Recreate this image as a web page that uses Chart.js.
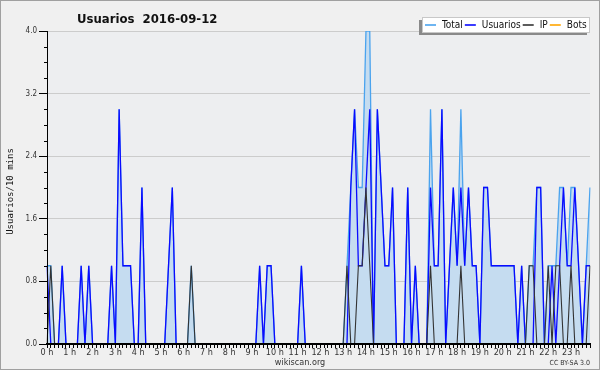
<!DOCTYPE html>
<html><head><meta charset="utf-8">
<script src="https://cdn.jsdelivr.net/npm/chart.js@4.4.0/dist/chart.umd.min.js"></script>
<style>html,body{margin:0;padding:0;background:#f0f0f0;}#wrap{width:600px;height:370px;position:relative}</style>
</head><body><div id="wrap"><canvas id="c" width="600" height="370"></canvas></div>
<script>
const chartTitle = 'Usuarios  2016-09-12';
const yAxisTitle = 'Usuarios/10 mins';
const hourLabels = ['0 h','1 h','2 h','3 h','4 h','5 h','6 h','7 h','8 h','9 h','10 h','11 h',
  '12 h','13 h','14 h','15 h','16 h','17 h','18 h','19 h','20 h','21 h','22 h','23 h'];
const seriesNames = ['Total','Usuarios','IP','Bots'];
// one value per 10 minutes (144 slots)
const usuarios = [
  1,0,0,0,1,0,0,0,0,1,0,1,
  0,0,0,0,0,1,0,3,1,1,1,0,
  0,2,0,0,0,0,0,0,1,2,0,0,
  0,0,0,0,0,0,0,0,0,0,0,0,
  0,0,0,0,0,0,0,0,1,0,1,1,
  0,0,0,0,0,0,0,1,0,0,0,0,
  0,0,0,0,0,0,0,0,2,3,1,1,
  2,3,0,3,2,1,1,2,0,0,0,2,
  0,1,0,0,0,2,1,1,3,0,1,2,
  1,2,1,2,1,1,0,2,2,1,1,1,
  1,1,1,1,0,1,0,0,0,2,2,0,
  0,1,0,1,2,1,1,2,1,0,1,1];
const total = [
  1,1,0,0,1,0,0,0,0,1,0,1,
  0,0,0,0,0,1,0,3,1,1,1,0,
  0,2,0,0,0,0,0,0,1,2,0,0,
  0,0,1,0,0,0,0,0,0,0,0,0,
  0,0,0,0,0,0,0,0,1,0,1,1,
  0,0,0,0,0,0,0,1,0,0,0,0,
  0,0,0,0,0,0,0,1,2,3,2,2,
  4,4,0,3,2,1,1,2,0,0,0,2,
  0,1,0,0,0,3,1,1,3,0,1,2,
  1,3,1,2,1,1,0,2,2,1,1,1,
  1,1,1,1,0,1,0,1,1,2,2,0,
  1,1,1,2,2,1,2,2,1,0,1,2];
const ip = [
  0,1,0,0,0,0,0,0,0,0,0,0,
  0,0,0,0,0,0,0,0,0,0,0,0,
  0,0,0,0,0,0,0,0,0,0,0,0,
  0,0,1,0,0,0,0,0,0,0,0,0,
  0,0,0,0,0,0,0,0,0,0,0,0,
  0,0,0,0,0,0,0,0,0,0,0,0,
  0,0,0,0,0,0,0,1,0,0,1,1,
  2,1,0,0,0,0,0,0,0,0,0,0,
  0,0,0,0,0,1,0,0,0,0,0,0,
  0,1,0,0,0,0,0,0,0,0,0,0,
  0,0,0,0,0,0,0,1,1,0,0,0,
  1,0,1,1,0,0,1,0,0,0,0,1];
const bots = [
  0,0,0,0,0,0,0,0,0,0,0,0,
  0,0,0,0,0,0,0,0,0,0,0,0,
  0,0,0,0,0,0,0,0,0,0,0,0,
  0,0,0,0,0,0,0,0,0,0,0,0,
  0,0,0,0,0,0,0,0,0,0,0,0,
  0,0,0,0,0,0,0,0,0,0,0,0,
  0,0,0,0,0,0,0,0,0,0,0,0,
  0,0,0,0,0,0,0,0,0,0,0,0,
  0,0,0,0,0,0,0,0,0,0,0,0,
  0,0,0,0,0,0,0,0,0,0,0,0,
  0,0,0,0,0,0,0,0,0,0,0,0,
  0,0,0,0,0,0,0,0,0,0,0,0];

const slotLabels = [];
for (let i = 0; i < usuarios.length; i++) slotLabels.push(i % 6 === 0 ? hourLabels[i / 6] : '');

const COND = "'DejaVu Sans Condensed', 'DejaVu Sans', sans-serif";

const decor = {
  id: 'decor',
  beforeDraw(chart) {
    const c = chart.ctx, a = chart.chartArea;
    c.save();
    c.fillStyle = '#f0f0f0';
    c.fillRect(0, 0, chart.width, chart.height);
    c.fillStyle = '#edeef0';
    c.fillRect(a.left, a.top, a.right - a.left, a.bottom - a.top);
    c.restore();
  },
  afterDraw(chart) {
    const c = chart.ctx, a = chart.chartArea, ys = chart.scales.y;
    c.save();
    // minor y ticks
    c.strokeStyle = '#000'; c.lineWidth = 1;
    for (let k = 1; k < 20; k++) {
      if (k % 4 === 0) continue;
      const py = Math.round(ys.getPixelForValue(k * 0.2)) + 0.5;
      c.beginPath(); c.moveTo(a.left - 3, py); c.lineTo(a.left, py); c.stroke();
    }
    // y axis title
    c.save();
    c.translate(11, (a.top + a.bottom) / 2 + 4);
    c.rotate(-Math.PI / 2);
    c.fillStyle = '#111';
    c.font = "9px 'DejaVu Sans Mono', monospace";
    c.textAlign = 'center'; c.textBaseline = 'middle';
    c.fillText(yAxisTitle, 0, 0);
    c.restore();
    // title
    c.fillStyle = '#111';
    c.font = "bold 13px " + COND;
    c.textBaseline = 'alphabetic'; c.textAlign = 'left';
    c.fillText(chartTitle, 77, 23);
    // legend
    c.fillStyle = '#8a8a8a';
    c.fillRect(419, 20, 168, 15);
    c.fillStyle = '#ffffff';
    c.fillRect(422, 17, 168, 16);
    c.strokeStyle = '#c8c8c8';
    c.strokeRect(422.5, 17.5, 167, 15);
    c.font = "10px " + COND;
    c.textBaseline = 'middle';
    let x = 425;
    const yc = 25;
    seriesNames.forEach(name => {
      const ds = chart.data.datasets.find(d => d.label === name);
      c.strokeStyle = ds.borderColor; c.lineWidth = 1.6;
      c.beginPath(); c.moveTo(x, yc); c.lineTo(x + 11, yc); c.stroke();
      x += 17;
      c.fillStyle = '#111';
      c.fillText(name, x, yc);
      x += c.measureText(name).width + 2;
    });
    // footer
    c.fillStyle = '#333';
    c.font = "9px " + COND;
    c.textBaseline = 'alphabetic';
    c.textAlign = 'center';
    c.fillText('wikiscan.org', 300, 365);
    c.font = "7px " + COND;
    c.textAlign = 'right';
    c.fillText('CC BY-SA 3.0', 590, 365);
    // outer border
    c.strokeStyle = '#a0a0a0'; c.lineWidth = 1;
    c.strokeRect(0.5, 0.5, chart.width - 1, chart.height - 1);
    c.restore();
  }
};

new Chart(document.getElementById('c'), {
  type: 'line',
  data: {
    labels: slotLabels,
    datasets: [
      { label: 'IP', data: ip, borderColor: '#333333', borderWidth: 1.1, pointRadius: 0, fill: false, tension: 0, order: 0 },
      { label: 'Usuarios', data: usuarios, borderColor: '#0a0aff', borderWidth: 1.3, pointRadius: 0, fill: false, tension: 0, order: 1 },
      { label: 'Total', data: total, borderColor: '#4aa3ee', backgroundColor: '#c5dcf0', borderWidth: 1.3, pointRadius: 0, fill: 'origin', tension: 0, order: 2 },
      { label: 'Bots', data: bots, borderColor: '#ffa500', borderWidth: 1, pointRadius: 0, fill: false, tension: 0, order: 3 }
    ]
  },
  options: {
    responsive: false,
    animation: false,
    events: [],
    layout: { padding: { top: 31, right: 10, left: 0, bottom: 0 } },
    plugins: { legend: { display: false }, tooltip: { enabled: false }, title: { display: false } },
    scales: {
      x: {
        type: 'category',
        offset: false,
        grid: { drawOnChartArea: false, tickLength: 4, tickColor: '#000', tickWidth: 1 },
        border: { color: '#000', width: 2, z: 1 },
        ticks: {
          autoSkip: false, maxRotation: 0, minRotation: 0, padding: -1,
          color: '#333', font: { family: COND, size: 9 },
          callback: (v, i) => slotLabels[i]
        },
        afterFit: s => { s.height = 26; }
      },
      y: {
        min: 0, max: 4,
        ticks: { stepSize: 0.8, padding: 2, color: '#333', font: { family: COND, size: 8 },
          callback: v => Number(v).toFixed(1) },
        grid: { color: c => (c.tick && Math.abs(c.tick.value) < 1e-9) ? 'rgba(0,0,0,0)' : '#cccccc',
          tickLength: 8, tickColor: '#000', lineWidth: 1 },
        border: { color: '#000', width: 1, z: 1 },
        title: { display: false },
        afterFit: s => { s.width = 47; }
      }
    }
  },
  plugins: [decor]
});
</script></body></html>
